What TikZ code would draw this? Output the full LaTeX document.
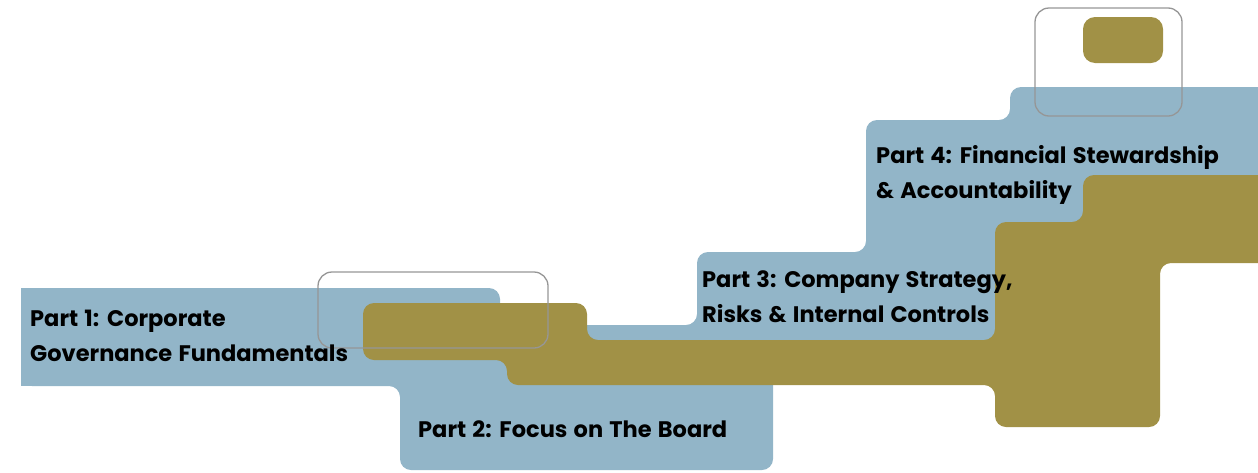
\documentclass[tikz,border=0pt]{standalone}
\usepackage{fontspec}
\setmainfont{Poppins}[WordSpace=1.3]
\definecolor{stepblue}{RGB}{146,181,200}
\definecolor{stepolive}{RGB}{161,145,70}
\definecolor{framegray}{RGB}{150,150,150}
\tikzset{
  bluepath/.style={fill=stepblue, rounded corners=11pt},
  olivepath/.style={fill=stepolive, rounded corners=11pt},
  framebox/.style={draw=framegray, line width=1.3pt, rounded corners=14pt},
  label/.style={anchor=base west, inner sep=0pt, align=left, text=black,
    font=\fontsize{22.5}{35}\selectfont\bfseries}
}
\begin{document}
\begin{tikzpicture}[x=1pt,y=-1pt]
\useasboundingbox (0,0) rectangle (1258,472);
\clip (0,0) rectangle (1258,472);
% blue staircase
\path[bluepath] (21,288) -- (500,288) -- (500,325) -- (697,325) -- (697,252)
  -- (866,252) -- (866,120) -- (1010,120) -- (1010,87) -- (1290,87)
  -- (1290,240) -- (1020,240) -- (1020,370) -- (773,370) -- (773,470)
  -- (400,470) -- (400,386) -- (21,386) -- cycle;
% square left end of the first step
\path[fill=stepblue] (21,288) rectangle (60,386);
% olive staircase
\path[olivepath] (363,303) -- (587,303) -- (587,340) -- (995,340) -- (995,222)
  -- (1083,222) -- (1083,175) -- (1290,175) -- (1290,263) -- (1160,263)
  -- (1160,427) -- (995,427) -- (995,385) -- (507,385) -- (507,360)
  -- (363,360) -- cycle;
% small olive block top right
\path[fill=stepolive, rounded corners=12pt] (1083,17) rectangle (1163,63);
% outline frames
\draw[framebox] (318,272) rectangle (548,348);
\draw[framebox] (1035,8) rectangle (1182,116);
% labels (anchor at baseline of last line)
\node[label] (p1) at (30,361) {Part 1: Corporate\\Governance Fundamentals};
\node[label] (p2) at (418,437) {Part 2: Focus on The Board};
\node[label] (p3) at (702,322) {Part 3: Company Strategy,\\Risks \& Internal Controls};
\node[label] (p4) at (876,198) {Part 4: Financial Stewardship\\\& Accountability};
\end{tikzpicture}
\end{document}
